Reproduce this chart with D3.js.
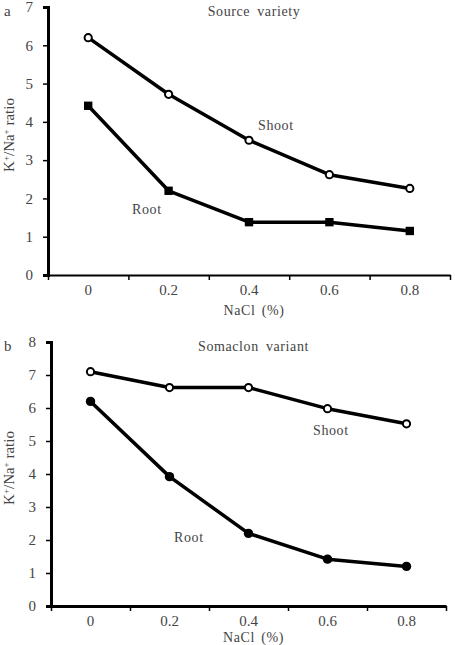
<!DOCTYPE html>
<html>
<head>
<meta charset="utf-8">
<script src="https://cdn.jsdelivr.net/npm/d3@7"></script>
<style>
  body { margin: 0; background: #fff; }
  text { font-family: "Liberation Serif", "Times New Roman", serif; fill: #444; }
</style>
</head>
<body>
<script>
const nacl = ["0", "0.2", "0.4", "0.6", "0.8"];

// panel a: source variety
const shootA = [6.2, 4.72, 3.52, 2.62, 2.26];
const rootA = [4.42, 2.2, 1.38, 1.38, 1.15];

// panel b: somaclon variant
const shootB = [7.1, 6.62, 6.62, 5.98, 5.52];
const rootB = [6.2, 3.92, 2.2, 1.42, 1.2];

const panels = [
  {letter: "a", title: "Source variety", shoot: shootA, root: rootA, yMax: 7,
   top: 7, bottom: 275, left: 48, right: 450, sym: d3.symbolSquare,
   shootLab: [258, 130], rootLab: [132, 214], xlabY: 315},
  {letter: "b", title: "Somaclon variant", shoot: shootB, root: rootB, yMax: 8,
   top: 342, bottom: 606, left: 51, right: 446, sym: d3.symbolCircle,
   shootLab: [313, 435], rootLab: [174, 542], xlabY: 642}
];

const svg = d3.select("body").append("svg")
    .attr("width", 455)
    .attr("height", 645);

panels.forEach(p => {
  const g = svg.append("g");

  const x = d3.scaleBand().domain(nacl).range([p.left, p.right]);
  const xi = d3.scaleLinear().domain([0, nacl.length]).range([p.left, p.right]);
  const y = d3.scaleLinear().domain([0, p.yMax]).range([p.bottom, p.top]);
  const cx = (d, i) => x(nacl[i]) + x.bandwidth() / 2;

  // x axis: tick marks at band edges, labels at centres
  g.append("g")
    .attr("transform", `translate(0,${p.bottom})`)
    .call(d3.axisBottom(xi).tickValues(d3.range(nacl.length + 1)).tickFormat("").tickSize(5).tickSizeOuter(0))
    .call(a => a.select(".domain").attr("stroke-width", p.letter == "a" ? 2 : 3))
    .call(a => a.selectAll(".tick line").attr("stroke-width", 1.5));

  g.append("g")
    .attr("transform", `translate(0,${p.bottom})`)
    .call(d3.axisBottom(x).tickSize(0).tickPadding(9))
    .call(a => a.select(".domain").remove())
    .call(a => a.selectAll("text").style("font-size", "15px").style("font-family", "Liberation Serif").attr("fill", "#555"));

  g.append("g")
    .attr("transform", `translate(${p.left},0)`)
    .call(d3.axisLeft(y).ticks(p.yMax).tickSize(5).tickPadding(10).tickSizeOuter(5))
    .call(a => a.select(".domain").attr("stroke-width", 3))
    .call(a => a.selectAll(".tick line").attr("stroke-width", 1.5))
    .call(a => a.selectAll("text").style("font-size", "15px").style("font-family", "Liberation Serif").attr("fill", "#555"));

  // labels
  g.append("text").attr("x", 4).attr("y", p.top + 9).style("font-size", "15px").text(p.letter);
  g.append("text").attr("x", (p.left + p.right) / 2 + 5).attr("y", p.top + 9)
    .attr("text-anchor", "middle").style("font-size", "14px")
    .style("letter-spacing", "0.6px").style("word-spacing", "3px").text(p.title);
  g.append("text").attr("x", (p.left + p.right) / 2 + 5).attr("y", p.xlabY)
    .attr("text-anchor", "middle").style("font-size", "14px")
    .style("letter-spacing", "0.6px").style("word-spacing", "2px").text("NaCl (%)");

  const yl = g.append("text")
    .attr("transform", `translate(14,${(p.top + p.bottom) / 2 - 6}) rotate(-90)`)
    .attr("text-anchor", "middle").style("font-size", "15px");
  yl.append("tspan").text("K");
  yl.append("tspan").attr("dy", -5).style("font-size", "9px").text("+");
  yl.append("tspan").attr("dy", 5).text("/Na");
  yl.append("tspan").attr("dy", -5).style("font-size", "9px").text("+");
  yl.append("tspan").attr("dy", 5).text(" ratio");

  g.append("text").attr("x", p.shootLab[0]).attr("y", p.shootLab[1])
    .style("font-size", "14px").style("letter-spacing", "0.6px").text("Shoot");
  g.append("text").attr("x", p.rootLab[0]).attr("y", p.rootLab[1])
    .style("font-size", "14px").style("letter-spacing", "0.6px").text("Root");

  const line = d3.line().x(cx).y(d => y(d));

  [p.root, p.shoot].forEach(series => {
    g.append("path").datum(series)
      .attr("d", line)
      .attr("fill", "none")
      .attr("stroke", "#000")
      .attr("stroke-width", 3.5)
      .attr("stroke-linejoin", "round");
  });

  g.selectAll(".rootpt").data(p.root).enter().append("path")
    .attr("transform", (d, i) => `translate(${cx(d, i)},${y(d)})`)
    .attr("d", d3.symbol().type(p.sym).size(70))
    .attr("fill", "#000");

  g.selectAll(".shootpt").data(p.shoot).enter().append("circle")
    .attr("cx", cx).attr("cy", d => y(d))
    .attr("r", 3.6)
    .attr("fill", "#fff")
    .attr("stroke", "#000")
    .attr("stroke-width", 2);
});
</script>
</body>
</html>
